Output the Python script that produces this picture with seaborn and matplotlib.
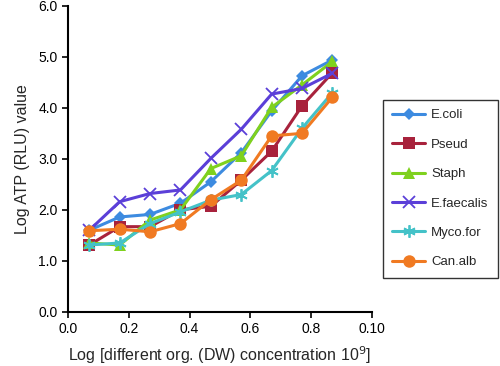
import numpy as np
import pandas as pd
import matplotlib
matplotlib.use('Agg')
import matplotlib.pyplot as plt
import seaborn as sns

# 농도 (log) 값
conc = [0.07, 0.17, 0.27, 0.37, 0.47, 0.57, 0.67, 0.77, 0.87]

# 균주별 Log ATP 값
ecoli = [1.60, 1.86, 1.91, 2.13, 2.55, 3.12, 3.94, 4.63, 4.94]
pseud = [1.31, 1.67, 1.67, 2.00, 2.07, 2.58, 3.15, 4.04, 4.69]
staph = [1.35, 1.31, 1.80, 2.00, 2.81, 3.06, 4.01, 4.45, 4.91]
efaecalis = [1.60, 2.16, 2.32, 2.39, 3.01, 3.58, 4.27, 4.38, 4.68]
myco = [1.31, 1.35, 1.73, 1.96, 2.19, 2.30, 2.77, 3.60, 4.30]
canalb = [1.59, 1.62, 1.57, 1.73, 2.20, 2.58, 3.45, 3.50, 4.21]

names = ['E.coli', 'Pseud', 'Staph', 'E.faecalis', 'Myco.for', 'Can.alb']
colors = ['#3d8be0', '#a8223c', '#7fd11e', '#5b3fd8', '#44c2c8', '#f07a22']
markers = ['D', 's', '^', 'x', '*', 'o']
sizes = [6, 8, 8, 9, 9, 9]

xticklabels = ['0.0', '0.2', '0.4', '0.6', '0.8', '0.10']
yticks = [0, 1, 2, 3, 4, 5, 6]

series = [ecoli, pseud, staph, efaecalis, myco, canalb]

sns.set_style('ticks')
plt.rcParams['font.family'] = ['Liberation Sans', 'DejaVu Sans']

fig = plt.figure(figsize=(5, 3.66), dpi=100)
ax = fig.add_axes([0.136, 0.148, 0.608, 0.836])

for name, vals, c, m, s in zip(names, series, colors, markers, sizes):
    df = pd.DataFrame({'x': conc, 'y': vals})
    if m in ('x', '*'):
        sns.lineplot(data=df, x='x', y='y', ax=ax, color=c, linewidth=2.2,
                     marker='x' if m == 'x' else (6, 2, 0), markersize=s,
                     markeredgewidth=1.3, markeredgecolor=c, label=name)
    else:
        sns.lineplot(data=df, x='x', y='y', ax=ax, color=c, linewidth=2.2,
                     marker=m, markersize=s, markeredgewidth=0,
                     label=name)

ax.set_xlim(0, 1.0)
ax.set_ylim(0, 6)
ax.set_xticks([0, 0.2, 0.4, 0.6, 0.8, 1.0])
ax.set_xticklabels(xticklabels)
ax.set_yticks(yticks)
ax.set_yticklabels(['%.1f' % v for v in yticks])
ax.tick_params(labelsize=10, length=4, width=1.2, colors='black')
for sp in ['left', 'bottom']:
    ax.spines[sp].set_linewidth(1.5)
    ax.spines[sp].set_color('black')
sns.despine(ax=ax)

ax.set_xlabel('Log [different org. (DW) concentration 10$^{9}$]', fontsize=11.5, labelpad=6)
ax.set_ylabel('Log ATP (RLU) value', fontsize=11.5, labelpad=6)

leg = ax.legend(loc='upper left', bbox_to_anchor=(0.766, 0.727, 0.23, 0),
                bbox_transform=fig.transFigure, mode='expand',
                frameon=True, fancybox=False, fontsize=9.5, handlelength=2.5,
                handletextpad=0.45, labelspacing=1.3, borderpad=0.7,
                borderaxespad=0, edgecolor='black')
leg.get_frame().set_linewidth(1.0)

fig.savefig('out.png', dpi=100)
